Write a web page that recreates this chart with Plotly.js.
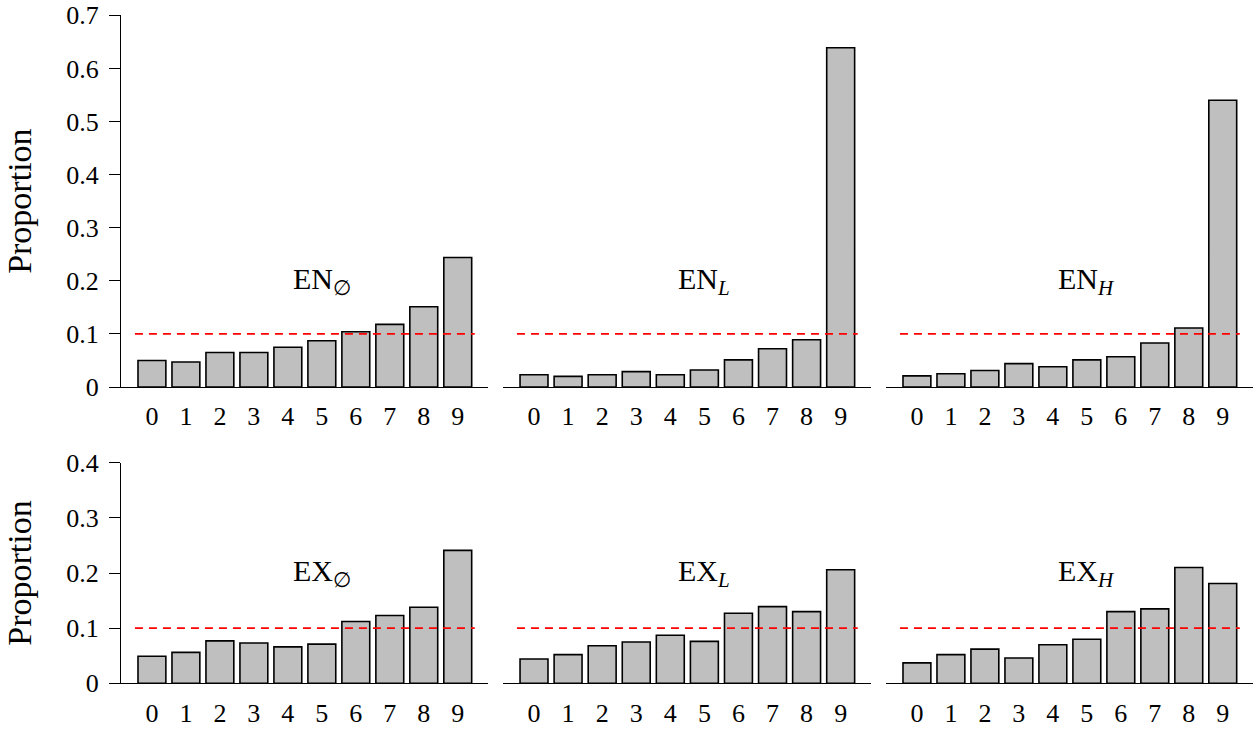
<!DOCTYPE html>
<html>
<head>
<meta charset="utf-8">
<script src="https://cdn.plot.ly/plotly-3.0.1.min.js"></script>
<style>
  html, body { margin: 0; padding: 0; background: #fff; }
  #chart { width: 1253px; height: 729px; }
</style>
</head>
<body>
<div id="chart"></div>
<script>
// ---- data ----
const categories = [0, 1, 2, 3, 4, 5, 6, 7, 8, 9];
const tickLabels = ['0', '1', '2', '3', '4', '5', '6', '7', '8', '9'];

const enNone = [0.050, 0.047, 0.065, 0.065, 0.075, 0.087, 0.104, 0.118, 0.151, 0.244];
const enL    = [0.023, 0.020, 0.023, 0.029, 0.023, 0.032, 0.051, 0.072, 0.089, 0.639];
const enH    = [0.021, 0.025, 0.031, 0.044, 0.038, 0.051, 0.057, 0.083, 0.111, 0.540];
const exNone = [0.049, 0.056, 0.077, 0.073, 0.066, 0.071, 0.112, 0.123, 0.138, 0.241];
const exL    = [0.044, 0.052, 0.068, 0.075, 0.087, 0.076, 0.127, 0.139, 0.130, 0.206];
const exH    = [0.037, 0.052, 0.062, 0.046, 0.070, 0.080, 0.130, 0.135, 0.210, 0.181];

const panelLabels = ['EN<sub>∅</sub>', 'EN<sub><i>L</i></sub>', 'EN<sub><i>H</i></sub>',
                     'EX<sub>∅</sub>', 'EX<sub><i>L</i></sub>', 'EX<sub><i>H</i></sub>'];
const uniformLine = [0.1, 0.1];        // reference level (1/10)
const uniformLineX = [-0.5, 9.5];
const yTitle = 'Proportion';
const topTicks = [0, 0.1, 0.2, 0.3, 0.4, 0.5, 0.6, 0.7];
const topTickText = ['0', '0.1', '0.2', '0.3', '0.4', '0.5', '0.6', '0.7'];
const botTicks = [0, 0.1, 0.2, 0.3, 0.4];
const botTickText = ['0', '0.1', '0.2', '0.3', '0.4'];

// ---- layout geometry ----
const W = 1253, H = 729;
const xDomains = [[121 / W, 488 / W], [503 / W, 871 / W], [886 / W, 1]];
const yDomains = [[(H - 387) / H, (H - 15.3) / H], [(H - 683.3) / H, (H - 462.7) / H]];
const series = [enNone, enL, enH, exNone, exL, exH];
const FONT = '"Liberation Serif", "Times New Roman", serif';

const traces = [];
const layout = {
  width: W, height: H,
  margin: {l: 0, r: 0, t: 0, b: 0},
  paper_bgcolor: '#fff', plot_bgcolor: '#fff',
  showlegend: false,
  font: {family: FONT, size: 26, color: '#000'},
  annotations: []
};

series.forEach((vals, i) => {
  const row = Math.floor(i / 3), col = i % 3;
  const n = i + 1;
  const xa = 'x' + (n === 1 ? '' : n), ya = 'y' + (n === 1 ? '' : n);
  traces.push({
    type: 'bar', x: categories, y: vals, xaxis: xa, yaxis: ya,
    width: 0.82,
    marker: {color: '#bfbfbf', line: {color: '#000', width: 1.6}},
    hoverinfo: 'x+y'
  });
  traces.push({
    type: 'scatter', mode: 'lines', x: uniformLineX, y: uniformLine, xaxis: xa, yaxis: ya,
    line: {color: '#ff0000', width: 1.6, dash: '8px,6px'},
    hoverinfo: 'skip'
  });
  const xKey = 'xaxis' + (n === 1 ? '' : n), yKey = 'yaxis' + (n === 1 ? '' : n);
  layout[xKey] = {
    domain: xDomains[col], anchor: ya, range: [-0.91, 9.89],
    showline: true, linecolor: '#000', linewidth: 1,
    ticks: '', tickvals: categories, ticktext: tickLabels,
    showgrid: false, zeroline: false, fixedrange: true,
    ticklabelstandoff: 6,
    tickfont: {family: FONT, size: 26, color: '#000'}
  };
  const isFirst = col === 0;
  layout[yKey] = {
    domain: yDomains[row], anchor: xa,
    range: row === 0 ? [0, 0.7] : [0, 0.4],
    showgrid: false, zeroline: false, fixedrange: true,
    showline: isFirst, linecolor: '#000', linewidth: 1,
    ticks: isFirst ? 'outside' : '', ticklen: 11, tickcolor: '#000', tickwidth: 1,
    showticklabels: isFirst,
    ticklabelstandoff: 5,
    tickvals: row === 0 ? topTicks : botTicks,
    ticktext: row === 0 ? topTickText : botTickText,
    tickfont: {family: FONT, size: 26, color: '#000'}
  };
  if (isFirst) {
    layout[yKey].title = {text: yTitle, font: {family: FONT, size: 34, color: '#000'}, standoff: 24};
  }
  layout.annotations.push({
    xref: xa, yref: ya, x: 5, y: 0.2, text: panelLabels[i], showarrow: false,
    xanchor: 'center', yanchor: 'middle',
    font: {family: FONT, size: 30, color: '#000'}
  });
});

Plotly.newPlot('chart', traces, layout, {displayModeBar: false, staticPlot: true});
</script>
</body>
</html>
